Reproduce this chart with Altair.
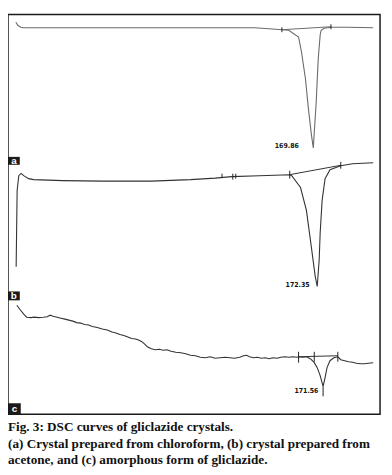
import altair as alt
import pandas as pd

# ---- panel (a): crystal from chloroform ----
a_x = [12, 14, 17, 20, 60, 100, 140, 170, 200, 230, 255, 270, 283, 290, 300, 303, 307, 310, 313, 315, 318, 320, 322, 323, 326, 333, 350, 376]
a_y = [8, 11, 13, 13.5, 13.5, 13.5, 13.5, 13.5, 13.5, 13.5, 13.5, 14.5, 15.5, 16, 23, 38, 65, 95, 121, 135, 88, 45, 21, 16, 14, 13, 13, 13.5]
a_chord_x = [283, 333]
a_chord_y = [15.5, 12.5]
a_tick_x = [283, 333]
a_tick_y1 = [13, 10]
a_tick_y2 = [18, 15]
a_peak = "169.86"
a_peak_x, a_peak_y = 288, 133

# ---- panel (b): crystal from acetone ----
b_x = [12.3, 13.3, 15, 17.3, 20, 25, 30, 60, 100, 150, 190, 215, 232, 260, 291, 293, 302, 308, 313, 317, 319, 321, 322, 324, 327, 332, 343, 355, 376]
b_y = [103, 26, 11, 8.7, 11, 14, 15, 16, 16.5, 16.5, 15, 13.5, 12, 11, 10, 11, 23, 46, 83, 113, 123, 96, 69, 36, 14, 5, 1, -1, -2]
b_chord_x = [291, 343]
b_chord_y = [10, 0.5]
b_tick_x = [291, 343, 222, 233, 236]
b_tick_y1 = [6, -3, 9, 9, 9]
b_tick_y2 = [14, 4, 13, 15, 14]
b_peak = "172.35"
b_peak_x, b_peak_y = 299, 122

# ---- panel (c): amorphous form ----
c_x = [13, 16, 20, 23, 27, 31, 35, 40, 44, 47, 50, 54, 58, 62, 66, 70, 74, 78, 82, 86, 90, 95, 100, 105, 110, 114, 118, 122, 126, 130,
       134, 137, 140, 143, 146, 150, 154, 158, 162, 166, 170, 175, 180, 185, 190, 195, 200, 205, 210, 215, 220, 225, 230, 235, 240,
       244, 247, 250, 254, 258, 262, 266, 270, 274, 278, 282, 286, 290, 294, 298, 300, 304, 308, 312, 316, 319, 322, 325, 327, 329,
       332, 336, 340, 343, 347, 351, 355, 359, 363, 367, 371, 376]
c_y = [5, 9, 14, 17, 17.5, 17, 17.5, 17, 16.5, 15, 16, 17, 18, 19, 20, 21, 22.5, 23, 24.5, 25, 26.5, 27.5, 29, 30, 32, 33, 34.5, 35.5, 37, 38.5,
       39, 40, 41.5, 44, 47, 49, 50, 49.5, 50.5, 50, 51.5, 52.5, 53, 54, 55.5, 56, 57.5, 58, 57, 58.5, 58, 57.5, 58, 58.5, 57.5,
       56, 55.5, 57, 58, 57.5, 58.5, 58, 59, 58, 58.5, 57.5, 57, 57.5, 57, 57.5, 57, 57.5, 57, 59, 63, 68, 76, 87, 78, 68,
       61, 58, 57, 60, 61, 62, 62.5, 63.5, 64, 64, 63.5, 63]
c_chord_x = [300, 340]
c_chord_y = [57, 56]
c_tick_x = [300, 316, 340, 325]
c_tick_y1 = [52, 52, 52, 87]
c_tick_y2 = [63, 62, 62, 97]
c_peak = "171.56"
c_peak_x, c_peak_y = 308, 92

# panel letter boxes
letters = ["a", "b", "c"]
box_x1 = [4, 4, 4]
box_x2 = [16, 16, 17]
box_y1 = [144, 128, 104]
box_y2 = [152, 137, 115]

# panel geometry (depth units per panel, and pixel ranges within plot)
panel_dom = [[0, 152], [0, 137], [0, 115]]
panel_rng = [[0, 152], [152, 289], [289, 404]]
line_col = ["#6a6a6a", "#333333", "#333333"]

W, H = 376, 404
xs = alt.Scale(domain=[4, 383], nice=False, zero=False)


def panel(i, cx, cy, chx, chy, tx, ty1, ty2, peak, px, py):
    ys = alt.Scale(domain=panel_dom[i], range=panel_rng[i], nice=False, zero=False)
    X = alt.X("x:Q", scale=xs, axis=None)
    Y = alt.Y("y:Q", scale=ys, axis=None)
    curve = alt.Chart(pd.DataFrame({"x": cx, "y": cy, "o": range(len(cx))})).mark_line(
        color=line_col[i], strokeWidth=1.1).encode(x=X, y=Y, order="o:Q")
    chord = alt.Chart(pd.DataFrame({"x": chx, "y": chy})).mark_line(
        color=line_col[i], strokeWidth=1).encode(x=X, y=Y)
    ticks = alt.Chart(pd.DataFrame({"x": tx, "y": ty1, "y2": ty2})).mark_rule(
        color="#222", strokeWidth=1).encode(x=X, y=Y, y2="y2:Q")
    lab = alt.Chart(pd.DataFrame({"x": [px], "y": [py], "t": [peak]})).mark_text(
        font="DejaVu Sans Condensed", fontSize=7, fontWeight="bold", color="#111",
        align="center", baseline="middle").encode(x=X, y=Y, text="t:N")
    box = alt.Chart(pd.DataFrame({"x": [box_x1[i]], "x2": [box_x2[i]], "y": [box_y1[i]],
                                  "y2": [box_y2[i]], "t": [letters[i]]}))
    rect = box.mark_rect(color="#1a1a1a").encode(x=X, x2="x2:Q", y=Y, y2="y2:Q")
    letter = box.mark_text(font="Liberation Sans", fontSize=10, fontWeight="bold",
                           color="white", align="center", baseline="middle").encode(
        x=alt.X("xm:Q", scale=xs, axis=None), y=alt.Y("ym:Q", scale=ys, axis=None), text="t:N"
    ).transform_calculate(xm="(datum.x + datum.x2) / 2", ym="(datum.y + datum.y2) / 2 + 0.5")
    return alt.layer(curve, chord, ticks, lab, rect, letter)


pa = panel(0, a_x, a_y, a_chord_x, a_chord_y, a_tick_x, a_tick_y1, a_tick_y2, a_peak, a_peak_x, a_peak_y)
pb = panel(1, b_x, b_y, b_chord_x, b_chord_y, b_tick_x, b_tick_y1, b_tick_y2, b_peak, b_peak_x, b_peak_y)
pc = panel(2, c_x, c_y, c_chord_x, c_chord_y, c_tick_x, c_tick_y1, c_tick_y2, c_peak, c_peak_x, c_peak_y)

chart = alt.layer(pa, pb, pc).resolve_scale(y="independent").properties(
    width=W, height=H,
    autosize=alt.AutoSizeParams(type="none"),
    padding={"left": 0, "top": 4, "right": 4, "bottom": 54},
    title=alt.TitleParams(
        text="Fig. 3: DSC curves of gliclazide crystals.",
        subtitle=["(a) Crystal prepared from chloroform, (b) crystal prepared from",
                  "acetone, and (c) amorphous form of gliclazide."],
        orient="bottom", anchor="start", frame="group", offset=6,
        font="Liberation Serif", fontSize=13.3, fontWeight="bold", color="#111",
        subtitleFont="Liberation Serif", subtitleFontSize=13.3, subtitleFontWeight="bold",
        subtitleColor="#111", subtitlePadding=4, subtitleLineHeight=16.5,
    ),
).configure_view(stroke="#1a1a1a", strokeWidth=1.5)

chart.save("out.html", embed_options={"renderer": "svg", "actions": False})
